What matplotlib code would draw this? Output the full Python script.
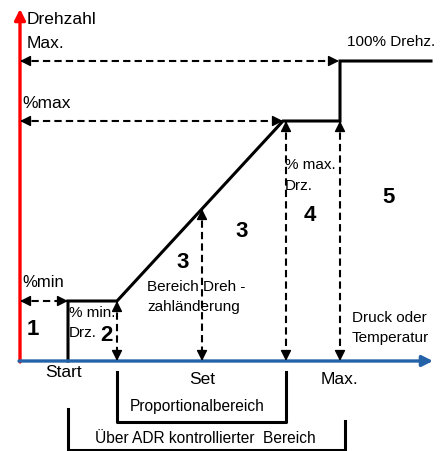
import matplotlib
matplotlib.use('Agg')
import matplotlib.pyplot as plt

plt.rcParams['font.family'] = ['Liberation Sans', 'DejaVu Sans']

# diagram coordinates (pixel-like units, y grows downwards)
origin = (20, 362)
axis_top = 10
axis_right = 433

# speed curve: Start -> %min -> ramp -> %max -> 100%
curve_x = [68, 68, 117, 283, 340, 340, 431]
curve_y = [362, 302, 302, 122, 122, 62, 62]

# dashed double arrows (x0, y0, x1, y1)
dashed = [
    (20, 62, 339, 62),
    (20, 122, 283, 122),
    (20, 302, 68, 302),
    (117, 302, 117, 362),
    (202, 210, 202, 362),
    (286, 122, 286, 362),
    (340, 122, 340, 362),
]

# brackets below the axis
bracket_prop = ([117, 117, 286, 286], [373, 423, 423, 373])
bracket_adr = ([68, 68, 345, 345], [410, 450.5, 450.5, 422])

labels = [
    # text, x, y, ha, size, weight
    ("Drehzahl", 27, 19, 'left', 12.5, 'normal'),
    ("Max.", 27, 44, 'left', 12.5, 'normal'),
    ("%max", 22, 103, 'left', 12.5, 'normal'),
    ("%min", 22, 283, 'left', 12, 'normal'),
    ("100% Drehz.", 347, 42, 'left', 11, 'normal'),
    ("% min.", 69, 313, 'left', 11, 'normal'),
    ("Drz.", 69, 333, 'left', 11, 'normal'),
    ("Bereich Dreh -", 147, 287, 'left', 11, 'normal'),
    ("zahländerung", 147, 307, 'left', 11, 'normal'),
    ("% max.", 285, 165, 'left', 11, 'normal'),
    ("Drz.", 285, 186, 'left', 11, 'normal'),
    ("Druck oder", 352, 318, 'left', 11, 'normal'),
    ("Temperatur", 352, 338, 'left', 11, 'normal'),
    ("Start", 63, 373, 'center', 12.5, 'normal'),
    ("Set", 202, 380, 'center', 12.5, 'normal'),
    ("Max.", 340, 380, 'center', 12.5, 'normal'),
    ("Proportionalbereich", 197, 407, 'center', 11.2, 'normal'),
    ("Über ADR kontrollierter  Bereich", 205, 439, 'center', 11.2, 'normal'),
    ("1", 33, 330, 'center', 16, 'bold'),
    ("2", 106, 336, 'center', 16, 'bold'),
    ("3", 183, 263, 'center', 16, 'bold'),
    ("3", 242, 232, 'center', 16, 'bold'),
    ("4", 310, 216, 'center', 16, 'bold'),
    ("5", 389, 198, 'center', 16, 'bold'),
]

fig = plt.figure(figsize=(4.46, 4.52), dpi=100, facecolor='w')
ax = fig.add_axes([0, 0, 1, 1])
ax.set_xlim(0, 446)
ax.set_ylim(452, 0)
ax.axis('off')


def head(ax, x0, y0, x1, y1, color='k', size=16, lw=1.0):
    # small solid arrow head whose tip sits at (x1, y1)
    dx, dy = x1 - x0, y1 - y0
    d = (dx ** 2 + dy ** 2) ** 0.5
    L = 10.0
    sx, sy = x1 - dx / d * L, y1 - dy / d * L
    ax.annotate('', xy=(x1, y1), xytext=(sx, sy),
                arrowprops=dict(arrowstyle='-|>', color=color, lw=lw,
                                mutation_scale=size, shrinkA=0, shrinkB=0),
                zorder=5)


# dashed helper arrows
for x0, y0, x1, y1 in dashed:
    ax.plot([x0, x1], [y0, y1], color='k', lw=1.5, ls=(0, (3.5, 2)), zorder=2)
    head(ax, x0, y0, x1, y1)
    head(ax, x1, y1, x0, y0)

# axes of the diagram
ax.annotate('', xy=(origin[0], axis_top), xytext=(origin[0], origin[1] + 1),
            arrowprops=dict(arrowstyle='-|>', color='#ff0000', lw=2.4,
                            mutation_scale=16, shrinkA=0, shrinkB=0), zorder=3)
ax.annotate('', xy=(axis_right, origin[1]), xytext=(origin[0] - 1, origin[1]),
            arrowprops=dict(arrowstyle='-|>', color='#2563a8', lw=2.4,
                            mutation_scale=16, shrinkA=0, shrinkB=0), zorder=4)

# speed curve
ax.plot(curve_x, curve_y, color='k', lw=2.2, solid_joinstyle='miter', zorder=3)

# brackets
ax.plot(*bracket_prop, color='k', lw=2.2, zorder=3)
ax.plot(*bracket_adr, color='k', lw=2.2, zorder=3)

for text, x, y, ha, size, weight in labels:
    ax.text(x, y, text, ha=ha, va='center', fontsize=size, fontweight=weight,
            color='k', zorder=6)

plt.savefig('out.png', dpi=100, facecolor='w')
